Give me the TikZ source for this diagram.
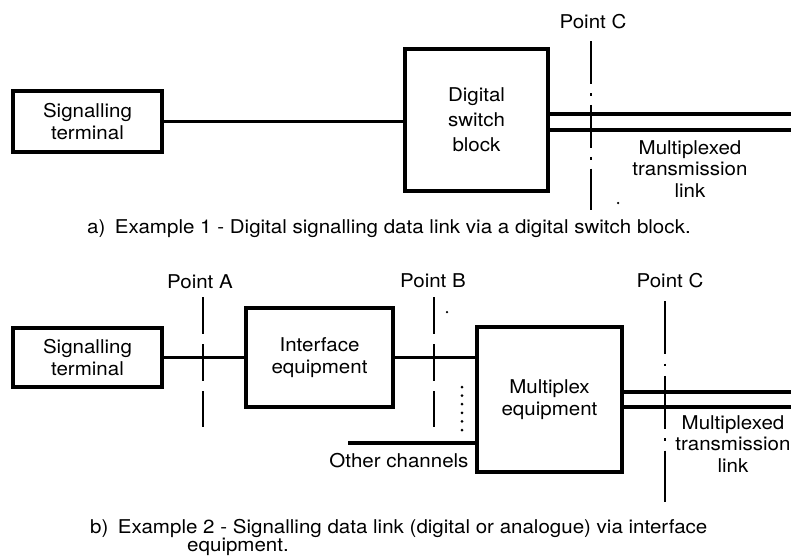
\documentclass[tikz,border=0pt]{standalone}
\usepackage{fontspec}
\setmainfont{TeX Gyre Heros}[FakeStretch=1.08]
\begin{document}
\begin{tikzpicture}[x=1pt,y=-1pt,
  box/.style={draw, line width=3.4pt, inner sep=0pt, align=center, font=\fontsize{19}{21.5}\selectfont},
  wire/.style={line width=3.4pt},
  lbl/.style={inner sep=0pt, align=center, font=\fontsize{19}{21.5}\selectfont},
  captxt/.style={inner sep=0pt, anchor=base west, font=\fontsize{19}{21.5}\selectfont},
  ptdash/.style={line width=2.8pt, dash pattern=on 37pt off 10pt},
  ptdashdot/.style={line width=2.8pt, dash pattern=on 43pt off 9pt on 2.8pt off 9pt},
  ptdashdotb/.style={line width=2.8pt, dash pattern=on 53pt off 9.5pt on 2.8pt off 9.5pt},
  speck/.style={fill, circle, inner sep=0pt, minimum size=2.5pt}
]
\useasboundingbox (0,0) rectangle (791,555);

% ---------- a) ----------
\node[box, minimum width=149pt, minimum height=61pt] (st1) at (87.5,121.5) {Signalling\\terminal};
\node[box, minimum width=143pt, minimum height=142pt, font=\fontsize{19}{25}\selectfont] (dsb) at (476.5,120) {Digital\\switch\\block};
\draw[wire] (st1.east) -- (dsb.west |- st1.east);
\coordinate (linkA1) at (800,114);
\coordinate (linkA2) at (800,130);
\draw[wire] (dsb.east |- linkA1) -- (linkA1);
\draw[wire] (dsb.east |- linkA2) -- (linkA2);
\coordinate (pCat) at (591,41);
\coordinate (pCab) at (591,210);
\draw[ptdashdot] (pCat) -- (pCab);
\node[lbl, anchor=base] (pCa) at (593,28) {Point C};
\node[lbl, anchor=base] (mtlA) at (690,197) {Multiplexed\\transmission\\link};
\node[speck] (speckA) at (618,203) {};
\node[captxt] (capa) at (87,233) {a)\enspace Example 1 - Digital signalling data link via a digital switch block.};

% ---------- b) ----------
\node[box, minimum width=149pt, minimum height=59pt] (st2) at (87.5,357.5) {Signalling\\terminal};
\node[box, minimum width=147pt, minimum height=99pt] (ie) at (319.5,357.5) {Interface\\equipment};
\node[box, minimum width=145pt, minimum height=145pt] (mux) at (549.5,399.5) {Multiplex\\equipment};
\draw[wire] (st2.east) -- (ie.west);
\draw[wire] (ie.east) -- (mux.west |- ie.east);
\coordinate (oc) at (348,443);
\draw[wire] (oc) -- (mux.west |- oc);
\node[lbl, anchor=base] (ocl) at (399,467) {Other channels};
\coordinate (linkB1) at (800,392);
\coordinate (linkB2) at (800,407);
\draw[wire] (mux.east |- linkB1) -- (linkB1);
\draw[wire] (mux.east |- linkB2) -- (linkB2);

\coordinate (pAt) at (203,297);
\coordinate (pAb) at (203,427);
\draw[ptdash] (pAt) -- (pAb);
\node[lbl, anchor=base] (pA) at (200,288) {Point A};

\coordinate (pBt) at (434,297);
\coordinate (pBb) at (434,427);
\draw[ptdash] (pBt) -- (pBb);
\node[lbl, anchor=base] (pB) at (433,287) {Point B};
\node[speck] (speckB) at (447,312) {};

\coordinate (dt) at (462,387);
\coordinate (db) at (462,430.2);
\draw[line width=3pt, line cap=round, dash pattern=on 0pt off 8.6pt] (dt) -- (db);

\coordinate (pCbt) at (665,301);
\coordinate (pCbb) at (665,502);
\draw[ptdashdotb] (pCbt) -- (pCbb);
\node[lbl, anchor=base] (pCb) at (670,287) {Point C};
\node[lbl, anchor=base] (mtlB) at (733,472) {Multiplexed\\transmission\\link};

\node[captxt] (capb1) at (90,533) {b)\enspace Example 2 - Signalling data link (digital or analogue) via interface};
\node[captxt] (capb2) at (187,551) {equipment.};
\end{tikzpicture}
\end{document}
